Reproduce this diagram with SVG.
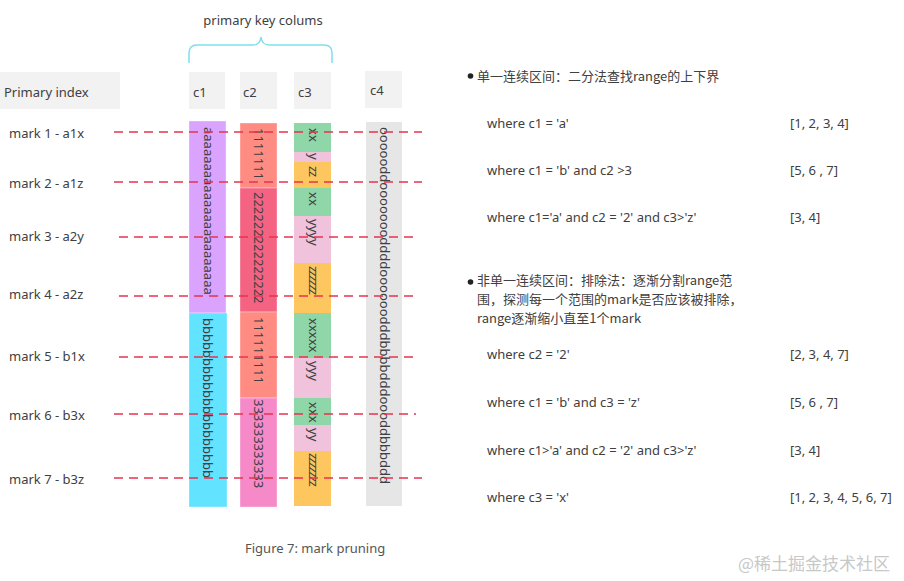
<svg xmlns="http://www.w3.org/2000/svg" width="904" height="581" viewBox="0 0 904 581">
<style>
text{font-family:"Noto Sans","Noto Sans CJK SC",sans-serif;font-size:13px;fill:#404040}
.hdr{fill:#f2f2f2}
.col{stroke:#ffffff;stroke-opacity:0.35;stroke-width:1}
.v{font-size:13px;fill:#404040}
.dash{stroke:#e8334f;stroke-width:1.3;stroke-dasharray:9 6;fill:none}
.cjk{font-family:"Noto Sans CJK SC","Noto Sans",sans-serif}
</style>
<rect width="904" height="581" fill="#ffffff"/>

<g id="brace-label">
<text x="263" y="25" text-anchor="middle">primary key colums</text>
<path d="M189,63 L189,53 Q189,45 197,45 L253,45 Q260,45 261,37 Q262,45 269,45 L324,45 Q332,45 332,53 L332,63" fill="none" stroke="#7fe0ec" stroke-width="1.5"/>
</g>

<g id="header-primary"><rect class="hdr" x="0" y="72" width="120" height="37"/><text x="4" y="97">Primary index</text></g>
<g id="header-c1"><rect class="hdr" x="189" y="72" width="36" height="37"/><text x="193" y="97">c1</text></g>
<g id="header-c2"><rect class="hdr" x="240" y="72" width="37" height="37"/><text x="243" y="97">c2</text></g>
<g id="header-c3"><rect class="hdr" x="294" y="72" width="37" height="37"/><text x="298" y="97">c3</text></g>
<g id="header-c4"><rect class="hdr" x="365" y="71" width="37" height="37"/><text x="370" y="95">c4</text></g>

<g id="col-c1">
<rect class="col" x="189" y="121" width="37" height="192" fill="#daa3fd"/>
<rect class="col" x="189" y="313" width="38" height="194" fill="#62e3ff"/>
<text class="v" transform="translate(203.5,127) rotate(90)">aaaaaaaaaaaaaaaaaaaaaaa</text>
<text class="v" transform="translate(203,318) rotate(90)">bbbbbbbbbbbbbbbbbbbb</text>
</g>

<g id="col-c2">
<rect class="col" x="240" y="123" width="37" height="65" fill="#ff8c82"/>
<rect class="col" x="240" y="188" width="37" height="124" fill="#f46382"/>
<rect class="col" x="240" y="312" width="37" height="86" fill="#ff8c82"/>
<rect class="col" x="240" y="398" width="37" height="109" fill="#f689c8"/>
<text class="v" transform="translate(254,128) rotate(90)">1111111</text>
<text class="v" transform="translate(254,192) rotate(90)">222222222222222</text>
<text class="v" transform="translate(254,317) rotate(90)">111111111</text>
<text class="v" transform="translate(254,399) rotate(90)">333333333333</text>
</g>

<g id="col-c3">
<rect x="294" y="123" width="37" height="29" fill="#8fd7a8"/>
<rect x="294" y="152" width="37" height="10" fill="#f0c2dc"/>
<rect x="294" y="162" width="37" height="26" fill="#fec65e"/>
<rect x="294" y="188" width="37" height="28" fill="#8fd7a8"/>
<rect x="294" y="216" width="37" height="47" fill="#f0c2dc"/>
<rect x="294" y="263" width="37" height="50" fill="#fec65e"/>
<rect x="294" y="313" width="37" height="45" fill="#8fd7a8"/>
<rect x="294" y="358" width="37" height="40" fill="#f0c2dc"/>
<rect x="294" y="398" width="37" height="27" fill="#8fd7a8"/>
<rect x="294" y="425" width="37" height="26" fill="#f0c2dc"/>
<rect x="294" y="451" width="37" height="55" fill="#fec65e"/>
<text class="v" transform="translate(309,128) rotate(90)">xx</text>
<text class="v" transform="translate(309,153) rotate(90)">y</text>
<text class="v" transform="translate(309,166) rotate(90)" letter-spacing="-1">zz</text>
<text class="v" transform="translate(309,192) rotate(90)">xx</text>
<text class="v" transform="translate(309,219) rotate(90)">yyyy</text>
<text class="v" transform="translate(309,266) rotate(90)" letter-spacing="-1.5">zzzzzz</text>
<text class="v" transform="translate(309,318) rotate(90)">xxxxx</text>
<text class="v" transform="translate(309,361) rotate(90)">yyy</text>
<text class="v" transform="translate(309,402) rotate(90)">xxx</text>
<text class="v" transform="translate(309,428) rotate(90)">yy</text>
<text class="v" transform="translate(309,453) rotate(90)" letter-spacing="-1.5">zzzzzzz</text>
</g>

<g id="col-c4">
<rect x="366" y="122" width="36" height="384" fill="#e6e6e6"/>
<text class="v" transform="translate(380,127) rotate(90)">oooooddoooooooddddoooooodddbbbbdddoooddbbbddd</text>
</g>

<g id="marks">
<g id="mark1"><text x="9" y="138">mark 1 - a1x</text></g>
<g id="mark2"><text x="9" y="188">mark 2 - a1z</text></g>
<g id="mark3"><text x="9" y="241">mark 3 - a2y</text></g>
<g id="mark4"><text x="9" y="299">mark 4 - a2z</text></g>
<g id="mark5"><text x="9" y="361">mark 5 - b1x</text></g>
<g id="mark6"><text x="9" y="420">mark 6 - b3x</text></g>
<g id="mark7"><text x="9" y="484">mark 7 - b3z</text></g>
</g>

<g id="connectors">
<line class="dash" x1="114" y1="132" x2="422" y2="132"/>
<line class="dash" x1="114" y1="182" x2="422" y2="182"/>
<line class="dash" x1="119" y1="237" x2="418" y2="237"/>
<line class="dash" x1="119" y1="296" x2="418" y2="296"/>
<line class="dash" x1="119" y1="357" x2="418" y2="357"/>
<line class="dash" x1="114" y1="414" x2="416" y2="414"/>
<line class="dash" x1="114" y1="478" x2="422" y2="478"/>
</g>

<g id="section1">
<circle cx="470.5" cy="76" r="2.8" fill="#222"/>
<text class="cjk" x="477" y="81">单一连续区间：二分法查找range的上下界</text>
<text x="487" y="128">where c1 = 'a'</text><text x="790" y="128">[1, 2, 3, 4]</text>
<text x="487" y="175">where c1 = 'b' and c2 &gt;3</text><text x="790" y="175">[5, 6 , 7]</text>
<text x="487" y="222">where c1='a' and c2 = '2' and c3&gt;'z'</text><text x="790" y="222">[3, 4]</text>
</g>

<g id="section2">
<circle cx="470.5" cy="282" r="2.8" fill="#222"/>
<text class="cjk" x="477" y="285">非单一连续区间：排除法：逐渐分割range范</text>
<text class="cjk" x="477" y="304">围，探测每一个范围的mark是否应该被排除，</text>
<text class="cjk" x="477" y="323">range逐渐缩小直至1个mark</text>
<text x="487" y="359">where c2 = '2'</text><text x="790" y="359">[2, 3, 4, 7]</text>
<text x="487" y="407">where c1 = 'b' and c3 = 'z'</text><text x="790" y="407">[5, 6 , 7]</text>
<text x="487" y="455">where c1&gt;'a' and c2 = '2' and c3&gt;'z'</text><text x="790" y="455">[3, 4]</text>
<text x="487" y="502">where c3 = 'x'</text><text x="790" y="502">[1, 2, 3, 4, 5, 6, 7]</text>
</g>

<g id="caption"><text x="245" y="553" style="fill:#555">Figure 7: mark pruning</text></g>
<g id="watermark"><text class="cjk" x="738" y="570" style="font-size:17px;fill:#c8c8c8">@稀土掘金技术社区</text></g>
</svg>
